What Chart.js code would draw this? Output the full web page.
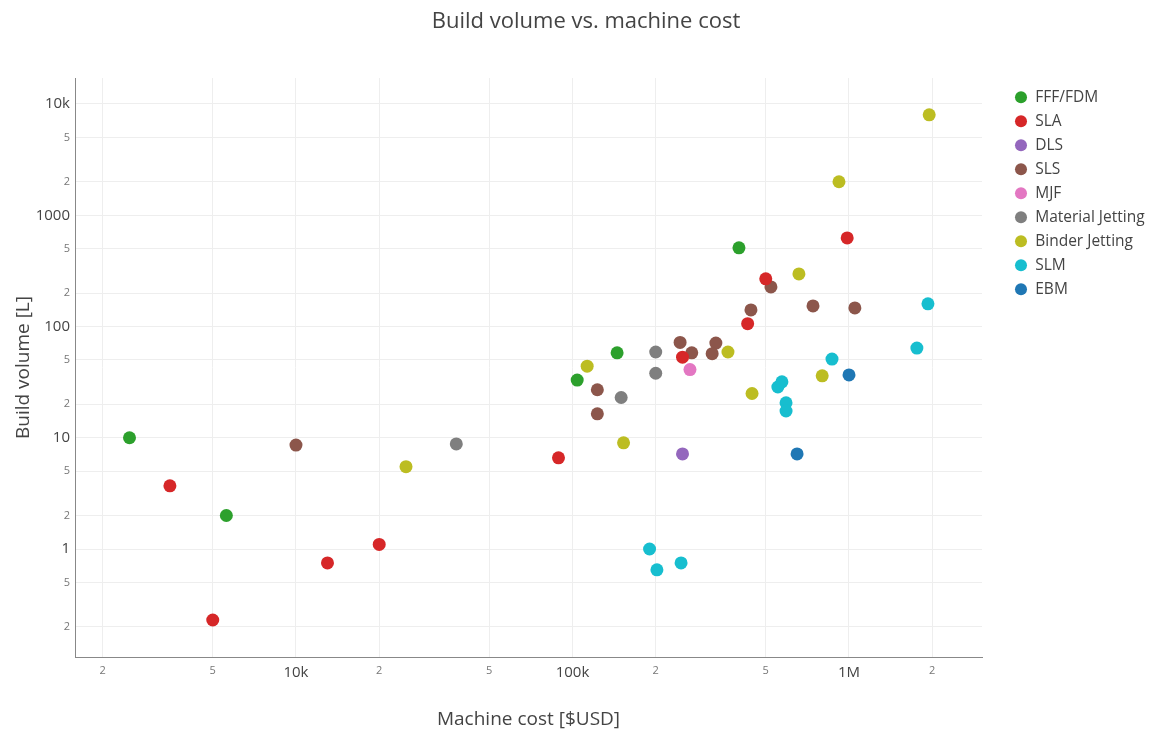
<!DOCTYPE html>
<html>
<head>
<meta charset="utf-8">
<script src="https://cdn.jsdelivr.net/npm/chart.js@4.4.1/dist/chart.umd.min.js"></script>
<style>
  html, body { margin: 0; padding: 0; background: #fff; }
  #wrap { width: 1160px; height: 736px; }
</style>
</head>
<body>
<div id="wrap"><canvas id="chart" width="1160" height="736"></canvas></div>
<script>
// values: machine cost [USD] vs build volume [L]
const fffCost = [2500, 5600, 104000, 145000, 400000];
const fffVolume = [10, 2, 33, 58, 510];
const slaCost = [3500, 5000, 13000, 20000, 89000, 250000, 430000, 500000, 985000];
const slaVolume = [3.7, 0.23, 0.75, 1.1, 6.6, 53, 106, 268, 625];
const dlsCost = [250000];
const dlsVolume = [7.15];
const slsCost = [10000, 123000, 123000, 245000, 270000, 330000, 320000, 442000, 522000, 741000, 1050000];
const slsVolume = [8.6, 27, 16.4, 72, 58, 71, 57, 141, 227, 153, 147];
const mjfCost = [266000];
const mjfVolume = [41];
const mjCost = [38000, 150000, 200000, 200000];
const mjVolume = [8.8, 23, 59, 38];
const bjCost = [25000, 113000, 153000, 365000, 446000, 659000, 920000, 1950000, 800000];
const bjVolume = [5.5, 44, 9, 59, 25, 297, 2000, 8000, 36];
const slmCost = [190000, 202000, 247000, 553000, 572000, 592000, 592000, 868000, 1760000, 1930000];
const slmVolume = [1.0, 0.65, 0.75, 28.6, 31.8, 20.6, 17.4, 51, 64, 160];
const ebmCost = [1000000, 649000];
const ebmVolume = [36.7, 7.15];

const seriesNames = ['FFF/FDM', 'SLA', 'DLS', 'SLS', 'MJF', 'Material Jetting', 'Binder Jetting', 'SLM', 'EBM'];
const seriesCost = [fffCost, slaCost, dlsCost, slsCost, mjfCost, mjCost, bjCost, slmCost, ebmCost];
const seriesVolume = [fffVolume, slaVolume, dlsVolume, slsVolume, mjfVolume, mjVolume, bjVolume, slmVolume, ebmVolume];

const xTickValues = [2e3, 5e3, 1e4, 2e4, 5e4, 1e5, 2e5, 5e5, 1e6, 2e6];
const xTickLabels = ['2', '5', '10k', '2', '5', '100k', '2', '5', '1M', '2'];
const yTickValues = [0.2, 0.5, 1, 2, 5, 10, 20, 50, 100, 200, 500, 1000, 2000, 5000, 10000];
const yTickLabels = ['2', '5', '1', '2', '5', '10', '2', '5', '100', '2', '5', '1000', '2', '5', '10k'];

const colors = ['#2ca02c', '#d62728', '#9467bd', '#8c564b', '#e377c2', '#7f7f7f', '#bcbd22', '#17becf', '#1f77b4'];
const FONT = "'Open Sans', sans-serif";
const TEXT = '#444';

const datasets = seriesNames.map((name, i) => ({
  label: name,
  data: seriesCost[i].map((c, j) => ({ x: c, y: seriesVolume[i][j] })),
  backgroundColor: colors[i],
  borderColor: colors[i],
  borderWidth: 0,
  pointRadius: 6.5,
  pointHoverRadius: 6.5,
  pointStyle: 'circle'
}));

const isMinor = lbl => lbl === '2' || lbl === '5';

function tickFont(labels) {
  return c => {
    const lbl = labels[c.index];
    return { family: FONT, size: isMinor(lbl) ? 11 : 15 };
  };
}
function tickColor(labels) {
  return c => (isMinor(labels[c.index]) ? '#777' : TEXT);
}

// move the legend a little away from the plot, like the original
const legendPlace = {
  id: 'legendPlace',
  beforeInit(chart) {
    const fit = chart.legend.fit;
    chart.legend.fit = function () {
      fit.call(this);
      this.width = 178;
    };
  },
  afterLayout(chart) {
    chart.legend.left += 24;
    chart.legend.top = 81;
  }
};

new Chart(document.getElementById('chart'), {
  type: 'scatter',
  data: { datasets },
  plugins: [legendPlace],
  options: {
    responsive: false,
    animation: false,
    layout: { padding: { left: 12, right: 0, top: 0, bottom: 0 } },
    plugins: {
      title: {
        display: true,
        text: 'Build volume vs. machine cost',
        color: TEXT,
        font: { family: FONT, size: 22, weight: 'normal' },
        padding: { top: 9, bottom: 42.6 }
      },
      legend: {
        position: 'right',
        align: 'start',
        labels: {
          usePointStyle: true,
          boxWidth: 13,
          boxHeight: 8.5,
          padding: 8.5,
          color: TEXT,
          font: { family: FONT, size: 15.5 }
        }
      },
      tooltip: { enabled: false }
    },
    scales: {
      x: {
        type: 'logarithmic',
        min: 1588,
        max: 3027000,
        afterBuildTicks: s => { s.ticks = xTickValues.map(v => ({ value: v })); },
        afterFit: s => { s.height = 79; },
        ticks: {
          autoSkip: false,
          maxRotation: 0,
          padding: 7,
          callback: (v, i) => xTickLabels[i],
          font: tickFont(xTickLabels),
          color: tickColor(xTickLabels)
        },
        grid: { color: '#eeeeee', drawTicks: false },
        border: { color: '#888', width: 1 },
        title: {
          display: true,
          text: 'Machine cost [$USD]',
          color: TEXT,
          font: { family: FONT, size: 19 },
          padding: { top: 0, bottom: 5 }
        }
      },
      y: {
        type: 'logarithmic',
        min: 0.107,
        max: 17127,
        afterBuildTicks: s => { s.ticks = yTickValues.map(v => ({ value: v })); },
        afterFit: s => { s.width = 63; },
        ticks: {
          autoSkip: false,
          padding: 5,
          callback: (v, i) => yTickLabels[i],
          font: tickFont(yTickLabels),
          color: tickColor(yTickLabels)
        },
        grid: { color: '#eeeeee', drawTicks: false },
        border: { color: '#888', width: 1 },
        title: {
          display: true,
          text: 'Build volume [L]',
          color: TEXT,
          font: { family: FONT, size: 19 },
          padding: { top: 0, bottom: 0 }
        }
      }
    }
  }
});
</script>
</body>
</html>
